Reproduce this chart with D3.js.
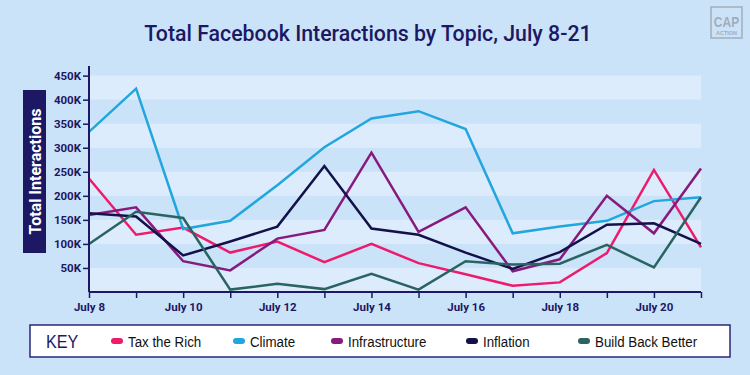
<!DOCTYPE html>
<html>
<head>
<meta charset="utf-8">
<script src="https://cdn.jsdelivr.net/npm/d3@7"></script>
<style>
  body { margin: 0; background: #cbe3f9; }
  svg { display: block; }
  .cond { font-family: "Liberation Sans", Arial, sans-serif; }
  .axis text { font-family: Roboto, "Liberation Sans", sans-serif; font-weight: 700; font-size: 11.5px; fill: #1c1863; }
</style>
</head>
<body>
<svg id="chart" width="750" height="375"></svg>
<script>
// days on the x axis
var days = [8, 9, 10, 11, 12, 13, 14, 15, 16, 17, 18, 19, 20, 21];
var dayLabels = ["July 8", "July 10", "July 12", "July 14", "July 16", "July 18", "July 20"];
var yTicks = [50000, 100000, 150000, 200000, 250000, 300000, 350000, 400000, 450000];

// interactions per topic (thousands)
var taxTheRich = [236, 119, 134, 82, 105, 62, 100, 60, 37, 13, 20, 81, 254, 93];
var climate = [333, 423, 131, 148, 222, 301, 361, 376, 339, 122, 136, 148, 189, 197];
var infrastructure = [160, 176, 64, 45, 111, 129, 290, 125, 176, 43, 68, 200, 122, 257];
var inflation = [164, 157, 76, 105, 136, 262, 132, 119, 82, 48, 83, 140, 143, 100];
var buildBackBetter = [100, 167, 154, 5, 17, 6, 38, 5, 64, 57, 59, 98, 51, 197];

var seriesNames = ["Tax the Rich", "Climate", "Infrastructure", "Inflation", "Build Back Better"];
var seriesValues = [taxTheRich, climate, infrastructure, inflation, buildBackBetter];
var seriesColors = ["#ee1b6d", "#22a6de", "#861a7e", "#13114a", "#2a6461"];

var navy = "#1c1863";
var svg = d3.select("#chart");

svg.append("rect").attr("width", 750).attr("height", 375).attr("fill", "#cbe3f9");

// title
svg.append("text")
    .attr("x", 368).attr("y", 41)
    .attr("text-anchor", "middle")
    .attr("font-family", "Roboto, 'Liberation Sans', sans-serif")
    .attr("font-weight", 500)
    .attr("font-size", 21.3)
    .attr("fill", navy)
    .text("Total Facebook Interactions by Topic, July 8-21");

// logo
var logo = svg.append("g").attr("transform", "translate(711,7)");
logo.append("rect").attr("width", 31).attr("height", 31)
    .attr("fill", "none").attr("stroke", "#a3adb9").attr("stroke-width", 1.5);
logo.append("text").attr("class", "cond")
    .attr("transform", "translate(15.5,20) scale(0.8,1)").attr("text-anchor", "middle")
    .attr("font-size", 15).attr("font-weight", 700).attr("fill", "#a3adb9")
    .text("CAP");
logo.append("text").attr("class", "cond")
    .attr("x", 15.5).attr("y", 28).attr("text-anchor", "middle")
    .attr("font-size", 5.5).attr("font-weight", 700).attr("fill", "#a3adb9")
    .text("ACTION");

var plotLeft = 89, plotRight = 701, plotBottom = 292, plotTop = 66;

var x = d3.scaleLinear().domain([8, 21]).range([plotLeft, plotRight]);
var y = d3.scaleLinear().domain([0, 470000]).range([plotBottom, plotTop]);

// alternating bands
var bands = [0, 100000, 200000, 300000, 400000];
svg.append("g").selectAll("rect")
    .data(bands)
    .enter().append("rect")
    .attr("x", plotLeft)
    .attr("width", plotRight - plotLeft)
    .attr("y", function(d) { return y(d + 50000); })
    .attr("height", function(d) { return y(d) - y(d + 50000); })
    .attr("fill", "#dcecfc");

// y axis title
svg.append("rect").attr("x", 23).attr("y", 90).attr("width", 23).attr("height", 163).attr("fill", navy);
svg.append("text")
    .attr("transform", "translate(40.5,171.5) rotate(-90)")
    .attr("text-anchor", "middle")
    .attr("font-family", "Roboto, 'Liberation Sans', sans-serif")
    .attr("font-weight", 700)
    .attr("font-size", 16)
    .attr("fill", "#fff")
    .text("Total Interactions");

// lines
var line = d3.line()
    .x(function(d, i) { return x(days[i]); })
    .y(function(d) { return y(d * 1000); });

svg.append("g").selectAll("path")
    .data(seriesValues)
    .enter().append("path")
    .attr("d", line)
    .attr("fill", "none")
    .attr("stroke", function(d, i) { return seriesColors[i]; })
    .attr("stroke-width", 2.5)
    .attr("stroke-linejoin", "miter");

// axes
var xAxis = svg.append("g")
    .attr("class", "axis")
    .attr("transform", "translate(0," + plotBottom + ")")
    .call(d3.axisBottom(x)
      .tickValues(days)
      .tickSize(6)
      .tickPadding(5)
      .tickFormat(function(d) { return dayLabels.indexOf("July " + d) >= 0 ? "July " + d : ""; }));
xAxis.select(".domain").remove();
xAxis.append("line").attr("x1", plotLeft).attr("x2", plotRight).attr("stroke", navy).attr("stroke-width", 2);
xAxis.selectAll(".tick line").attr("stroke", navy).attr("stroke-width", 1.5);

var yAxis = svg.append("g")
    .attr("class", "axis")
    .attr("transform", "translate(" + plotLeft + ",0)")
    .call(d3.axisLeft(y)
      .tickValues(yTicks)
      .tickSize(6)
      .tickPadding(2)
      .tickFormat(function(d) { return (d / 1000) + "K"; }));
yAxis.select(".domain").remove();
yAxis.append("line").attr("y1", plotTop).attr("y2", plotBottom).attr("stroke", navy).attr("stroke-width", 2);
yAxis.selectAll(".tick line").attr("stroke", navy).attr("stroke-width", 1.5);

// legend
var key = svg.append("g");
key.append("rect").attr("x", 30).attr("y", 325).attr("width", 700).attr("height", 32)
    .attr("fill", "#fff").attr("stroke", "#2b2878").attr("stroke-width", 1.5);
key.append("text").attr("class", "cond")
    .attr("transform", "translate(46,348) scale(0.85,1)").attr("font-size", 19).attr("fill", navy)
    .text("KEY");
var legendX = [111, 233, 331, 466, 578];
var item = key.selectAll("g.item")
    .data(seriesNames)
    .enter().append("g")
    .attr("class", "item")
    .attr("transform", function(d, i) { return "translate(" + legendX[i] + ",341)"; });
item.append("rect")
    .attr("x", 0).attr("y", -3).attr("width", 12).attr("height", 6).attr("rx", 3)
    .attr("fill", function(d, i) { return seriesColors[i]; });
item.append("text").attr("class", "cond")
    .attr("transform", "translate(17,5.5) scale(0.86,1)")
    .attr("font-size", 15.5).attr("fill", "#111")
    .text(function(d) { return d; });
</script>
</body>
</html>
